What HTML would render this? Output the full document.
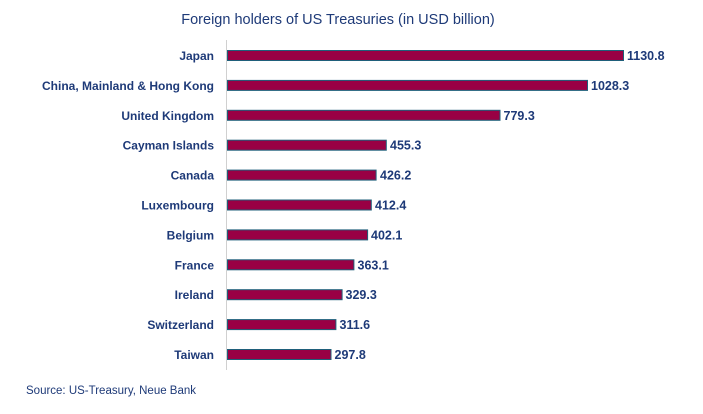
<!DOCTYPE html>
<html><head><meta charset="utf-8"><style>
body{margin:0;background:#fff;}
svg{display:block;font-family:"Liberation Sans",sans-serif;}
</style></head><body>
<svg width="703" height="414" xmlns="http://www.w3.org/2000/svg">
<text x="338" y="24" text-anchor="middle" font-size="14.5" fill="#1e3a78">Foreign holders of US Treasuries (in USD billion)</text>
<line x1="226.5" y1="40" x2="226.5" y2="370" stroke="#d0d0d0" stroke-width="1"/>
<g font-size="12" font-weight="bold" fill="#1e3a78" text-anchor="end">
<text x="214" y="60">Japan</text>
<text x="214" y="89.9">China, Mainland &amp; Hong Kong</text>
<text x="214" y="119.8">United Kingdom</text>
<text x="214" y="149.7">Cayman Islands</text>
<text x="214" y="179.6">Canada</text>
<text x="214" y="209.5">Luxembourg</text>
<text x="214" y="239.4">Belgium</text>
<text x="214" y="269.3">France</text>
<text x="214" y="299.2">Ireland</text>
<text x="214" y="329.1">Switzerland</text>
<text x="214" y="359">Taiwan</text>
</g>
<g fill="#990044" stroke="#1f5f7a" stroke-width="1">
<rect x="227.5" y="50.5" width="396" height="10"/>
<rect x="227.5" y="80.4" width="360" height="10"/>
<rect x="227.5" y="110.3" width="272.5" height="10"/>
<rect x="227.5" y="140.2" width="158.8" height="10"/>
<rect x="227.5" y="170.1" width="148.6" height="10"/>
<rect x="227.5" y="200" width="143.8" height="10"/>
<rect x="227.5" y="229.9" width="140.1" height="10"/>
<rect x="227.5" y="259.8" width="126.4" height="10"/>
<rect x="227.5" y="289.7" width="114.6" height="10"/>
<rect x="227.5" y="319.6" width="108.4" height="10"/>
<rect x="227.5" y="349.5" width="103.5" height="10"/>
</g>
<g font-size="12.5" font-weight="bold" fill="#1e3a78">
<text x="627" y="60">1130.8</text>
<text x="591" y="89.9">1028.3</text>
<text x="503.5" y="119.8">779.3</text>
<text x="390" y="149.7">455.3</text>
<text x="380" y="179.6">426.2</text>
<text x="375" y="209.5">412.4</text>
<text x="371" y="239.4">402.1</text>
<text x="357.5" y="269.3">363.1</text>
<text x="345.5" y="299.2">329.3</text>
<text x="339.5" y="329.1">311.6</text>
<text x="334.5" y="359">297.8</text>
</g>
<text x="26" y="394" font-size="11.5" fill="#1e3a78">Source: US-Treasury, Neue Bank</text>
</svg>
</body></html>
